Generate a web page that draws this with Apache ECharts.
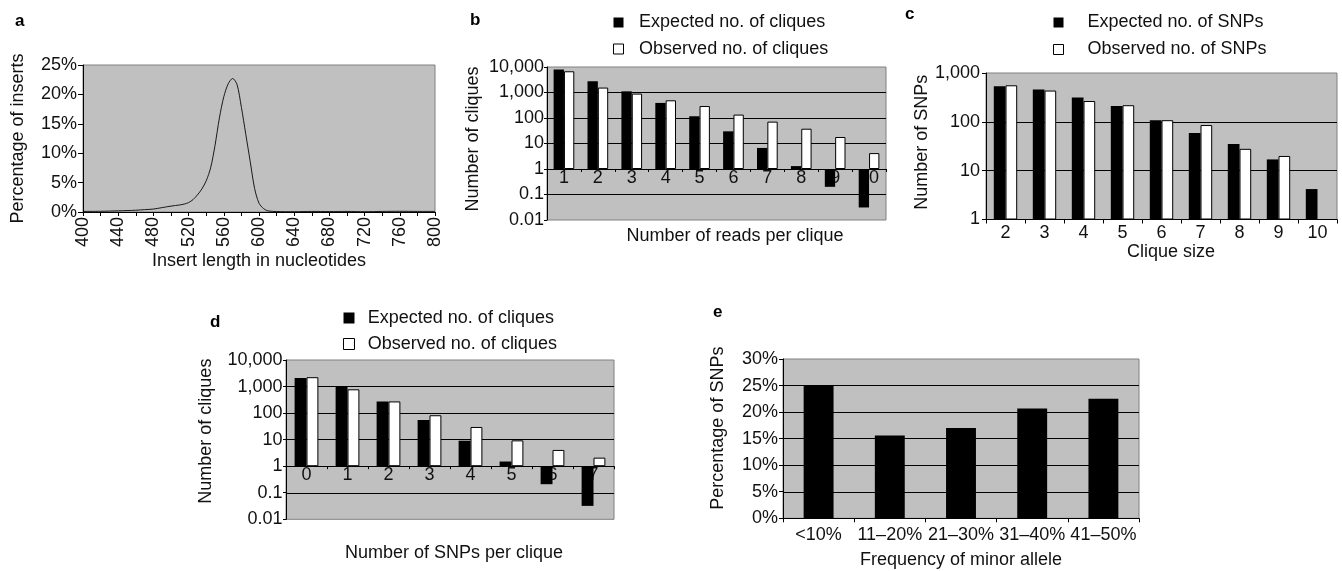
<!DOCTYPE html>
<html><head><meta charset="utf-8">
<script src="https://cdn.jsdelivr.net/npm/echarts@6/dist/echarts.min.js"></script>
<style>html,body{margin:0;padding:0;background:#fff}#c{width:1342px;height:571px}</style>
</head><body><div id="c"></div>
<script>
// ---- panel a ----
const insertLength = [400, 420, 440, 460, 470, 480, 490, 500, 510, 515, 520, 525, 530, 535, 540, 545, 550, 555, 560, 565, 570, 575, 580, 585, 590, 595, 600, 605, 610, 620, 640, 660, 680, 700, 720, 740, 760, 780, 800];
const pctInserts   = [0.1, 0.12, 0.2, 0.3, 0.4, 0.5, 0.75, 1.0, 1.2, 1.35, 1.6, 2.1, 2.9, 3.9, 5.3, 7.5, 11.3, 16.0, 19.6, 21.8, 22.7, 21.7, 17.8, 13.2, 8.6, 4.0, 1.5, 0.6, 0.2, 0.08, 0.05, 0.1, 0.08, 0.1, 0.05, 0.1, 0.12, 0.1, 0.1];
// ---- panel b ----
const readsPerClique   = ['1', '2', '3', '4', '5', '6', '7', '8', '9', '10'];
const expectedCliquesB = [7900, 2750, 1110, 390, 117, 30, 6.7, 1.3, 0.2, 0.031];
const observedCliquesB = [6800, 1560, 905, 494, 295, 136, 72, 38, 18, 4.2];
// ---- panel c ----
const cliqueSize   = ['2', '3', '4', '5', '6', '7', '8', '9', '10'];
const expectedSNPs = [535, 457, 314, 211, 108, 59, 35, 17, 4.2];
const observedSNPs = [560, 437, 267, 219, 108, 86, 28, 20, null];
// ---- panel d ----
const snpsPerClique    = ['0', '1', '2', '3', '4', '5', '6', '7'];
const expectedCliquesD = [2100, 1050, 275, 55, 9.1, 1.5, 0.21, 0.032];
const observedCliquesD = [2250, 786, 275, 83, 30, 9.4, 4.1, 2.1];
// ---- panel e ----
const minorAlleleFreq = ['<10%', '11–20%', '21–30%', '31–40%', '41–50%'];
const pctSNPs         = [25.0, 15.6, 17.0, 20.7, 22.5];
// ---- tick labels for log axes (exponent -2 .. 4) ----
const logTickLabels = ['0.01', '0.1', '1', '10', '100', '1,000', '10,000'];

const FONT = '"Liberation Sans", Arial, Helvetica, sans-serif';
const FS = 18;
const txt = {fontFamily: FONT, fontSize: FS, color: '#111'};
const black = {color: '#000', width: 1};
const logFmt = v => logTickLabels[Math.round(Math.log10(v)) + 2];

function grid(left, top, width, height) {
  return {left, top, width, height, show: true, backgroundColor: '#c0c0c0',
    borderColor: '#808080', borderWidth: 1, containLabel: false, outerBoundsMode: 'none'};
}
function catAxis(gi, data, o) {
  return Object.assign({
    type: 'category', gridIndex: gi, data, position: 'bottom',
    axisLine: {show: true, onZero: false, lineStyle: black},
    axisTick: {show: true, interval: 0, alignWithLabel: false, length: o.tick || 4, lineStyle: black},
    axisLabel: Object.assign({interval: 0, margin: o.margin}, txt),
    splitLine: {show: false},
    nameLocation: 'middle', nameGap: o.nameGap,
    nameTextStyle: Object.assign({padding: [0, 0, 0, o.padL || 0]}, txt)
  }, o.extra || {});
}
function yAxisBase(gi, o) {
  return Object.assign({
    gridIndex: gi,
    axisLine: {show: true, onZero: false, lineStyle: black},
    axisTick: {show: true, length: o.tick || 4, lineStyle: black},
    axisLabel: Object.assign({margin: o.margin, showMinLabel: true, showMaxLabel: true}, txt),
    splitLine: {show: o.split !== false, showMinLine: false, showMaxLine: false, lineStyle: black},
    minorTick: {show: false}, minorSplitLine: {show: false},
    name: o.name, nameLocation: 'middle', nameGap: o.nameGap,
    nameTextStyle: Object.assign({padding: [0, 0, 0, o.padL || 0]}, txt)
  }, o.extra || {});
}
function legend(left, top, names, o) {
  return {
    left, top, orient: 'vertical', padding: 0, icon: 'rect', selectedMode: false,
    itemWidth: o.size, itemHeight: o.size, itemGap: o.gap,
    data: [
      {name: names[0], itemStyle: {color: '#000', borderWidth: 0}},
      {name: names[1], itemStyle: {color: '#fff', borderColor: '#000', borderWidth: 1}}
    ],
    formatter: n => '{g|}' + n,
    textStyle: Object.assign({lineHeight: FS, rich: {g: {width: o.spacer}}}, txt)
  };
}
function letter(t, left, top) {
  return {text: t, left, top, padding: 0,
    textStyle: {fontFamily: FONT, fontSize: 17, fontWeight: 'bold', color: '#000'}};
}
const blackBar = {color: '#000'};
const whiteBar = {color: '#fff', borderColor: '#000', borderWidth: 1};

const option = {
  backgroundColor: '#fff',
  animation: false,
  title: [letter('a', 15, 13), letter('b', 470, 12.3), letter('c', 905, 5.6), letter('d', 210, 314), letter('e', 713, 304)],
  legend: [
    legend(613, 13.5, ['Expected no. of cliques', 'Observed no. of cliques'], {size: 10, gap: 8.5, spacer: 10.6}),
    legend(1053, 13.5, ['Expected no. of SNPs', 'Observed no. of SNPs'], {size: 10, gap: 9, spacer: 19}),
    legend(343, 309, ['Expected no. of cliques', 'Observed no. of cliques'], {size: 11, gap: 8, spacer: 8.3})
  ],
  grid: [
    grid(83, 65, 352, 147),
    grid(547, 67, 339, 153),
    grid(986, 73, 351, 146.5),
    grid(286, 360, 328, 159.3),
    grid(783, 359, 356, 159.3)
  ],
  xAxis: [
    {
      type: 'value', gridIndex: 0, min: 400, max: 800, interval: 40,
      axisLine: {show: true, onZero: false, lineStyle: black},
      axisTick: {show: true, length: 4, lineStyle: black},
      minorTick: {show: true, splitNumber: 2, length: 4, lineStyle: black},
      splitLine: {show: false}, minorSplitLine: {show: false},
      axisLabel: Object.assign({rotate: 90, margin: 5, showMinLabel: true, showMaxLabel: true}, txt),
      name: 'Insert length in nucleotides', nameLocation: 'middle', nameGap: 40,
      nameTextStyle: txt
    },
    catAxis(1, readsPerClique, {tick: 3, margin: 0.5, nameGap: 58, padL: 37,
      extra: {offset: -51, name: 'Number of reads per clique'}}),
    catAxis(2, cliqueSize, {tick: 4, margin: 5, nameGap: 21.5, padL: 19,
      extra: {name: 'Clique size'}}),
    catAxis(3, snpsPerClique, {tick: 3, margin: 0, nameGap: 78, padL: 8,
      extra: {offset: -53.1, name: 'Number of SNPs per clique'}}),
    catAxis(4, minorAlleleFreq, {tick: 4, margin: 7.5, nameGap: 32.5,
      extra: {name: 'Frequency of minor allele'}})
  ],
  yAxis: [
    yAxisBase(0, {tick: 5, margin: 6, split: false, name: 'Percentage of inserts', nameGap: 55.5,
      extra: {type: 'value', min: 0, max: 25, interval: 5, axisLabel: Object.assign({margin: 6, formatter: '{value}%'}, txt)}}),
    yAxisBase(1, {tick: 3, margin: 3, name: 'Number of cliques', nameGap: 65, padL: 9,
      extra: {type: 'log', logBase: 10, min: 0.01, max: 10000, interval: 1, splitNumber: 6,
        axisLabel: Object.assign({margin: 3, formatter: logFmt, showMinLabel: true, showMaxLabel: true}, txt)}}),
    yAxisBase(2, {tick: 4, margin: 6, name: 'Number of SNPs', nameGap: 51, padL: 8,
      extra: {type: 'log', logBase: 10, min: 1, max: 1000, interval: 1, splitNumber: 3,
        axisLabel: Object.assign({margin: 6, formatter: logFmt, showMinLabel: true, showMaxLabel: true}, txt)}}),
    yAxisBase(3, {tick: 3, margin: 3.5, name: 'Number of cliques', nameGap: 71, padL: 17,
      extra: {type: 'log', logBase: 10, min: 0.01, max: 10000, interval: 1, splitNumber: 6,
        axisLabel: Object.assign({margin: 3.5, formatter: logFmt, showMinLabel: true, showMaxLabel: true}, txt)}}),
    yAxisBase(4, {tick: 4, margin: 5, name: 'Percentage of SNPs', nameGap: 55.5, padL: 21,
      extra: {type: 'value', min: 0, max: 30, interval: 5, axisLabel: Object.assign({margin: 5, formatter: '{value}%'}, txt)}})
  ],
  series: [
    {type: 'line', xAxisIndex: 0, yAxisIndex: 0, name: 'Percentage of inserts',
      data: insertLength.map((x, i) => [x, pctInserts[i]]),
      showSymbol: false, smooth: 0.3, silent: true,
      lineStyle: {color: '#1a1a1a', width: 1}},
    {type: 'bar', xAxisIndex: 1, yAxisIndex: 1, name: 'Expected no. of cliques', data: expectedCliquesB,
      itemStyle: blackBar, barGap: '0%', barCategoryGap: '39%', silent: true},
    {type: 'bar', xAxisIndex: 1, yAxisIndex: 1, name: 'Observed no. of cliques', data: observedCliquesB,
      itemStyle: whiteBar, barGap: '0%', barCategoryGap: '39%', silent: true},
    {type: 'bar', xAxisIndex: 2, yAxisIndex: 2, name: 'Expected no. of SNPs', data: expectedSNPs,
      itemStyle: blackBar, barGap: '0%', barCategoryGap: '40%', silent: true},
    {type: 'bar', xAxisIndex: 2, yAxisIndex: 2, name: 'Observed no. of SNPs', data: observedSNPs,
      itemStyle: whiteBar, barGap: '0%', barCategoryGap: '40%', silent: true},
    {type: 'bar', xAxisIndex: 3, yAxisIndex: 3, name: 'Expected no. of cliques', data: expectedCliquesD,
      itemStyle: blackBar, barGap: '0%', barCategoryGap: '42%', silent: true},
    {type: 'bar', xAxisIndex: 3, yAxisIndex: 3, name: 'Observed no. of cliques', data: observedCliquesD,
      itemStyle: whiteBar, barGap: '0%', barCategoryGap: '42%', silent: true},
    {type: 'bar', xAxisIndex: 4, yAxisIndex: 4, name: 'Percentage of SNPs', data: pctSNPs,
      itemStyle: blackBar, barCategoryGap: '58%', silent: true}
  ]
};
const chart = echarts.init(document.getElementById('c'), null, {renderer: 'canvas'});
chart.setOption(option);
</script>
</body></html>
